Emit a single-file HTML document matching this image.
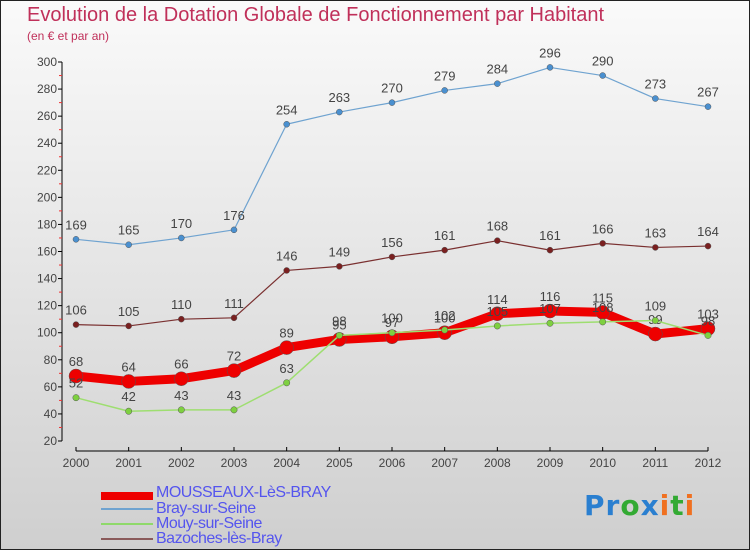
<!DOCTYPE html>
<html><head><meta charset="utf-8">
<style>
body{margin:0;width:750px;height:550px;overflow:hidden;font-family:"Liberation Sans",sans-serif;}
#wrap{position:relative;width:748px;height:548px;border:1px solid #222;background:linear-gradient(#fafafa,#cfcfcf);}
.t{position:absolute;color:#c0305a;white-space:nowrap}
.lg{position:absolute;left:155px;color:#5555ee;font-size:16px;letter-spacing:-0.5px}
.sw{position:absolute;left:100px;width:52px}
</style></head><body>
<div id="wrap">
<div class="t" style="left:26px;top:3px;font-size:20px">Evolution de la Dotation Globale de Fonctionnement par Habitant</div>
<div class="t" style="left:26px;top:28px;font-size:12px">(en € et par an)</div>
<svg id="svg" width="750" height="550" style="position:absolute;left:0;top:0"></svg>
<div class="sw" style="top:491px;height:8px;background:#e00"></div>
<div class="lg" style="top:483px">MOUSSEAUX-LèS-BRAY</div>
<div class="sw" style="top:507px;height:2px;background:#6fa3d0"></div>
<div class="lg" style="top:499px">Bray-sur-Seine</div>
<div class="sw" style="top:522px;height:2px;background:#8fd96a"></div>
<div class="lg" style="top:514px">Mouy-sur-Seine</div>
<div class="sw" style="top:537px;height:2px;background:#8a5a5a"></div>
<div class="lg" style="top:529px">Bazoches-lès-Bray</div>
<div style="position:absolute;left:583px;top:488px;font-size:28px;font-weight:bold;font-family:'DejaVu Sans',sans-serif;letter-spacing:1px"><span style="color:#2a7fd0">Pr</span><span style="color:#3a3">o</span><span style="color:#2a7fd0">x</span><span style="color:#f07020">i</span><span style="color:#3a3">t</span><span style="color:#f07020">i</span></div>
</div>
<script>
const years=[2000,2001,2002,2003,2004,2005,2006,2007,2008,2009,2010,2011,2012];
const yTicks=[20,40,60,80,100,120,140,160,180,200,220,240,260,280,300];
const mousseaux=[68,64,66,72,89,95,97,100,114,116,115,99,103];
const bray=[169,165,170,176,254,263,270,279,284,296,290,273,267];
const mouy=[52,42,43,43,63,98,100,102,105,107,108,109,98];
const bazoches=[106,105,110,111,146,149,156,161,168,161,166,163,164];
const svg=document.getElementById('svg');const NS='http://www.w3.org/2000/svg';
const X=i=>75+i*(707-75)/(years.length-1);
const Y=v=>440-(v-20)*(440-61)/280;
function mk(t,a){const e=document.createElementNS(NS,t);for(const k in a)e.setAttribute(k,a[k]);svg.appendChild(e);return e;}
let e=mk('line',{x1:61,y1:61,x2:61,y2:440,stroke:'#000'});


e=mk('line',{x1:75,y1:450,x2:707,y2:450,stroke:'#000'});


yTicks.forEach((v,i)=>{
 mk('line',{x1:57,x2:61,y1:Y(v),y2:Y(v),stroke:'#000'});
 if(i<yTicks.length-1)mk('line',{x1:58,x2:61,y1:Y(v+10),y2:Y(v+10),stroke:'#e33'});
 const t=mk('text',{x:56,y:Y(v)+4,'text-anchor':'end','font-size':12,fill:'#444'});t.textContent=v;
 
 
});
years.forEach((y,i)=>{
 mk('line',{x1:X(i),x2:X(i),y1:446,y2:450,stroke:'#000'});
 const t=mk('text',{x:X(i),y:466,'text-anchor':'middle','font-size':12,fill:'#444'});t.textContent=y;
 
 
});
function series(d,col,w,r,name,dot){
 const p=mk('polyline',{points:d.map((v,i)=>X(i)+','+Y(v)).join(' '),fill:'none',stroke:col,'stroke-width':w,'stroke-linejoin':'round'});
 
 
 d.forEach((v,i)=>{
  const c=mk('circle',{cx:X(i),cy:Y(v),r:r,fill:dot,stroke:'#555','stroke-width':0.5});
  
  
  const t=mk('text',{x:X(i),y:Y(v)-10,'text-anchor':'middle','font-size':13,fill:'#444'});t.textContent=v;
  
  
 });
}
series(bray,'#6fa3d0',1.2,3,'bray','#4a90d0');
series(bazoches,'#7a3030',1.2,3,'bazoches','#7a2020');
series(mousseaux,'#ee0000',9,7,'mousseaux','#e00');
series(mouy,'#9ede70',1.5,3.2,'mouy','#7ed040');
</script>
</body></html>
